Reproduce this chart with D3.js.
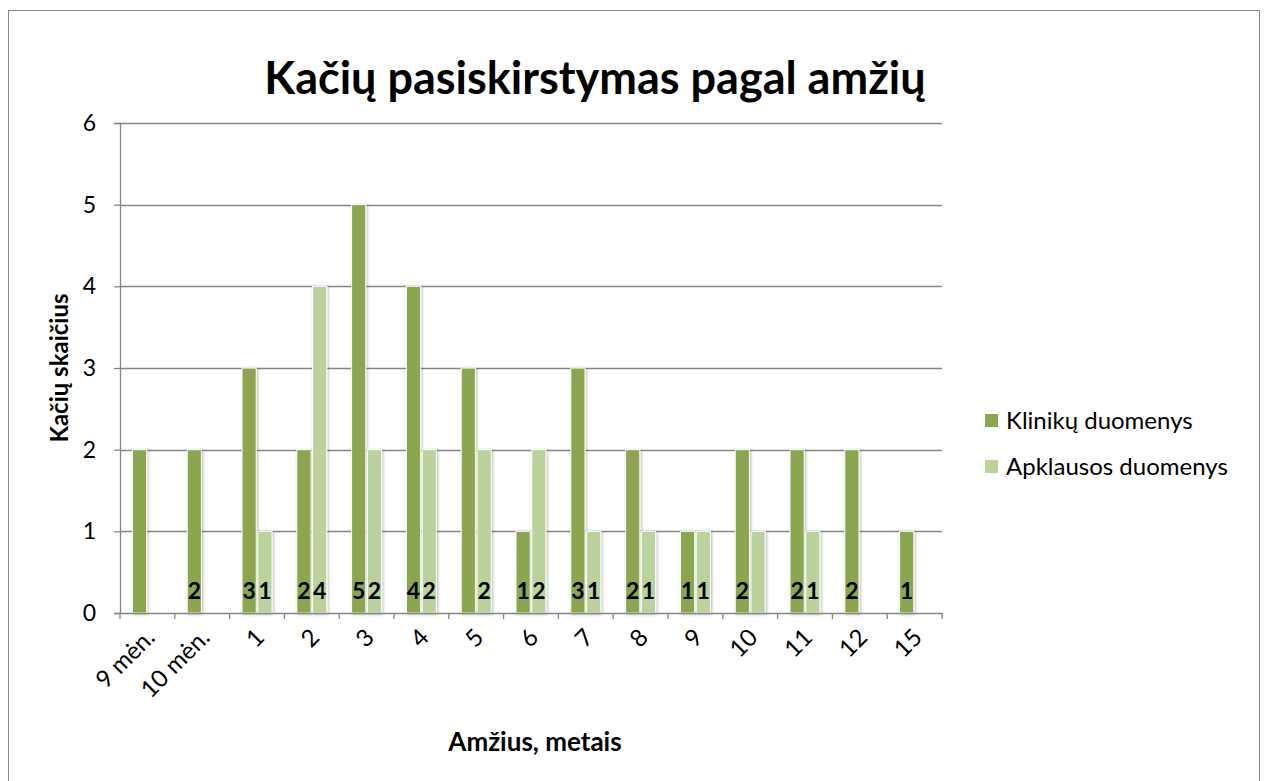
<!DOCTYPE html>
<html>
<head>
<meta charset="utf-8">
<script src="https://cdn.jsdelivr.net/npm/d3@7"></script>
<style>
  body { margin: 0; background: #fff; }
  text { font-family: Lato, "Open Sans", sans-serif; fill: #000; }
</style>
</head>
<body>
<script>
// data
var categories = ["9 mėn.", "10 mėn.", "1", "2", "3", "4", "5", "6", "7", "8", "9", "10", "11", "12", "15"];
var seriesNames = ["Klinikų duomenys", "Apklausos duomenys"];
var klinikos = [2, 2, 3, 2, 5, 4, 3, 1, 3, 2, 1, 2, 2, 2, 1];
var apklausa = [0, 0, 1, 4, 2, 2, 2, 2, 1, 1, 1, 1, 1, 0, 0];
// labels that are shown at the bar bases (some are missing in the original)
var klinikosLabels = ["", "2", "3", "2", "5", "4", "", "1", "3", "2", "1", "2", "2", "2", "1"];
var apklausaLabels = ["", "", "1", "4", "2", "2", "2", "2", "1", "1", "1", "", "1", "", ""];
var yTicks = [0, 1, 2, 3, 4, 5, 6];
var colors = ["#8ba650", "#bcd29c"];

var outWidth = 1267, outHeight = 781;
var margin = {top: 123, left: 120, right: 325, bottom: 168};
var width = outWidth - margin.left - margin.right,
    height = outHeight - margin.top - margin.bottom;

var svg = d3.select("body").append("svg")
  .attr("width", outWidth)
  .attr("height", outHeight);

// bar shadow
var defs = svg.append("defs");
defs.append("filter").attr("id", "shadow")
  .attr("x", "-50%").attr("y", "-10%").attr("width", "200%").attr("height", "120%")
  .append("feDropShadow")
  .attr("dx", 1).attr("dy", 1).attr("stdDeviation", 1.6)
  .attr("flood-color", "#000").attr("flood-opacity", 0.3);

// chart frame
svg.append("rect")
  .attr("x", 8.5).attr("y", 10.5)
  .attr("width", 1251).attr("height", 800)
  .attr("fill", "none").attr("stroke", "#888").attr("stroke-width", 1);

// title
svg.append("text")
  .attr("x", 595).attr("y", 94)
  .attr("text-anchor", "middle")
  .style("font-size", "45px").style("font-weight", "bold")
  .text("Kačių pasiskirstymas pagal amžių");

var g = svg.append("g")
  .attr("transform", "translate(" + margin.left + "," + margin.top + ")");

var x = d3.scaleBand().domain(categories).range([0, width]).padding(0);
var xSub = d3.scaleBand().domain(seriesNames)
  .range([(x.bandwidth() - 30) / 2, (x.bandwidth() + 30) / 2]).paddingInner(0.1);
var y = d3.scaleLinear().domain([0, 6]).range([height, 0]);

// gridlines
g.selectAll(".grid").data(yTicks.slice(1)).enter().append("line")
  .attr("x1", 0).attr("x2", width)
  .attr("y1", function(d) { return Math.round(y(d)) + 0.5; })
  .attr("y2", function(d) { return Math.round(y(d)) + 0.5; })
  .attr("stroke", "#868686").attr("stroke-width", 1.3);

// y axis
var yAxis = d3.axisLeft(y).tickValues(yTicks).tickFormat(d3.format("d")).tickSize(6).tickPadding(18);
var yg = g.append("g").call(yAxis);
yg.select(".domain").attr("stroke", "#868686").attr("stroke-width", 1.3);
yg.selectAll(".tick line").attr("stroke", "#868686").attr("stroke-width", 1.3);
yg.selectAll(".tick text").style("font-size", "23px").style("font-family", "Lato, sans-serif").attr("fill", "#000");

// bars
var rows = categories.map(function(c, i) {
  return {cat: c, values: [
    {name: seriesNames[0], v: klinikos[i], label: klinikosLabels[i], color: colors[0]},
    {name: seriesNames[1], v: apklausa[i], label: apklausaLabels[i], color: colors[1]}
  ]};
});

var groups = g.selectAll(".grp").data(rows).enter().append("g")
  .attr("transform", function(d) { return "translate(" + x(d.cat) + ",0)"; });

groups.selectAll("rect").data(function(d) { return d.values.filter(function(s) { return s.v > 0; }); })
  .enter().append("rect")
  .attr("x", function(d) { return xSub(d.name); })
  .attr("width", xSub.bandwidth())
  .attr("y", function(d) { return y(d.v); })
  .attr("height", function(d) { return height - y(d.v); })
  .attr("fill", function(d) { return d.color; })
  .attr("stroke", "#fff").attr("stroke-width", 1)
  .attr("filter", "url(#shadow)");

groups.selectAll(".lbl").data(function(d) { return d.values; })
  .enter().append("text")
  .attr("x", function(d) { return xSub(d.name) + xSub.bandwidth() / 2; })
  .attr("y", height - 14)
  .attr("text-anchor", "middle")
  .style("font-size", "23px").style("font-weight", "bold")
  .text(function(d) { return d.label; });

// x axis
var xAxis = d3.axisBottom(x).tickSize(0).tickFormat("");
var xg = g.append("g").attr("transform", "translate(0," + height + ")").call(xAxis);
xg.select(".domain").attr("stroke", "#868686").attr("stroke-width", 1.3);
// ticks at category boundaries
xg.selectAll(".bnd").data(categories.concat([null])).enter().append("line")
  .attr("x1", function(d, i) { return i * x.step(); })
  .attr("x2", function(d, i) { return i * x.step(); })
  .attr("y1", 0).attr("y2", 6)
  .attr("stroke", "#868686").attr("stroke-width", 1.3);
// rotated category labels
g.selectAll(".xl").data(categories).enter().append("text")
  .attr("transform", function(d) {
    return "translate(" + (x(d) + x.bandwidth() / 2 + 3) + "," + (height + 20) + ") rotate(-45)";
  })
  .attr("text-anchor", "end")
  .attr("dy", "0.35em")
  .style("font-size", "24px")
  .text(function(d) { return d; });

// axis titles
svg.append("text")
  .attr("x", 535).attr("y", 751)
  .attr("text-anchor", "middle")
  .style("font-size", "26px").style("font-weight", "bold")
  .text("Amžius, metais");

svg.append("text")
  .attr("transform", "translate(68,368) rotate(-90)")
  .attr("text-anchor", "middle")
  .style("font-size", "24px").style("font-weight", "bold")
  .text("Kačių skaičius");

// legend
var legend = svg.selectAll(".legend").data(seriesNames).enter().append("g")
  .attr("transform", function(d, i) { return "translate(985," + (421 + i * 46) + ")"; });
legend.append("rect")
  .attr("x", 0).attr("y", -7)
  .attr("width", 13).attr("height", 13)
  .attr("fill", function(d, i) { return colors[i]; });
legend.append("text")
  .attr("x", 21).attr("dy", "0.35em")
  .style("font-size", "24px")
  .text(function(d) { return d; });
</script>
</body>
</html>
